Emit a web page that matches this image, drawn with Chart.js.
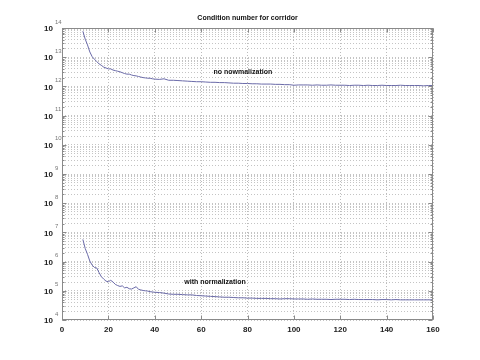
<!DOCTYPE html>
<html>
<head>
<meta charset="utf-8">
<script src="https://cdn.jsdelivr.net/npm/chart.js@4/dist/chart.umd.min.js"></script>
<style>
  html, body { margin: 0; padding: 0; background: #fff; }
  #wrap { width: 480px; height: 360px; }
</style>
</head>
<body>
<div id="wrap"><canvas id="c" width="480" height="360"></canvas></div>
<script>
// ---- data ----
const titleText = 'Condition number for corridor';
const xValues = [9,10,11,12,13,14,15,16,17,18,19,20,21,22,23,24,25,26,27,28,29,30,31,32,33,34,35,36,37,38,39,40,
  42,44,46,48,50,52,54,56,58,60,62,64,66,68,70,72,74,76,78,80,82,84,86,88,90,92,94,96,98,100,
  102,104,106,108,110,112,114,116,118,120,122,124,126,128,130,132,134,136,138,140,142,144,146,148,150,152,154,156,158,160];
// log10 of the condition number, no normalization
const log10NoNorm = [13.89,13.62,13.42,13.18,13.02,12.93,12.85,12.77,12.72,12.66,12.63,12.60,12.60,12.56,12.54,12.52,12.50,12.47,12.44,12.42,12.42,12.39,12.37,12.36,12.34,12.32,12.30,12.29,12.28,12.28,12.26,12.25,
  12.24,12.26,12.21,12.21,12.20,12.19,12.18,12.17,12.16,12.16,12.15,12.14,12.14,12.13,12.13,12.12,12.11,12.11,12.10,12.10,12.09,12.09,12.08,12.08,12.08,12.07,12.07,12.06,12.06,12.04,
  12.05,12.05,12.05,12.04,12.05,12.04,12.04,12.05,12.04,12.04,12.04,12.03,12.04,12.04,12.03,12.04,12.03,12.03,12.04,12.03,12.03,12.03,12.04,12.03,12.03,12.03,12.03,12.02,12.03,12.03];
// log10 of the condition number, with normalization
const log10WithNorm = [6.76,6.45,6.25,6.02,5.88,5.80,5.78,5.62,5.48,5.40,5.33,5.31,5.36,5.30,5.22,5.18,5.15,5.17,5.10,5.12,5.07,5.06,5.10,5.14,5.05,5.03,5.01,5.00,4.99,4.97,4.96,4.95,
  4.94,4.92,4.89,4.88,4.88,4.87,4.86,4.86,4.84,4.83,4.82,4.81,4.80,4.79,4.78,4.78,4.77,4.76,4.76,4.75,4.75,4.74,4.74,4.74,4.73,4.73,4.72,4.73,4.73,4.72,
  4.72,4.72,4.71,4.72,4.71,4.71,4.71,4.70,4.71,4.71,4.71,4.70,4.71,4.70,4.70,4.70,4.70,4.69,4.70,4.70,4.69,4.70,4.69,4.69,4.69,4.69,4.69,4.69,4.69,4.69];
const yDecadeExponents = [4,5,6,7,8,9,10,11,12,13,14];
const xTickValues = [0,20,40,60,80,100,120,140,160];
const annotations = [
  { text: 'no nowmalization', x: 78, y: Math.pow(10, 12.49) },
  { text: 'with normalization', x: 66, y: Math.pow(10, 5.31) }
];

const lineColor = '#6a6aa8';
const FONT = '"Liberation Sans", Arial, sans-serif';
const toPoints = (xs, logs) => xs.map((xv, i) => ({ x: xv, y: Math.pow(10, logs[i]) }));

const decorPlugin = {
  id: 'decor',
  afterDraw(chart) {
    const { ctx, chartArea: a, scales: { x, y } } = chart;
    ctx.save();
    const L = Math.round(a.left) + 0.5, R = Math.round(a.right) - 0.5;
    const T = Math.round(a.top) + 0.5, B = Math.round(a.bottom) - 0.5;
    // frame
    ctx.strokeStyle = '#8a8a8a';
    ctx.lineWidth = 1;
    ctx.strokeRect(L, T, R - L, B - T);
    // tick marks
    ctx.beginPath();
    xTickValues.forEach(v => {
      const px = Math.round(x.getPixelForValue(v)) + 0.5;
      ctx.moveTo(px, B); ctx.lineTo(px, B - 4);
      ctx.moveTo(px, T); ctx.lineTo(px, T + 4);
    });
    y.ticks.forEach(t => {
      const py = Math.round(y.getPixelForValue(t.value)) + 0.5;
      const len = t.major ? 4 : 2;
      ctx.moveTo(L, py); ctx.lineTo(L + len, py);
      ctx.moveTo(R, py); ctx.lineTo(R - len, py);
    });
    ctx.stroke();
    // y labels 10^n
    yDecadeExponents.forEach(e => {
      const py = y.getPixelForValue(Math.pow(10, e));
      ctx.fillStyle = '#222';
      ctx.font = 'bold 8px ' + FONT;
      ctx.textAlign = 'right';
      ctx.textBaseline = 'middle';
      ctx.fillText('10', a.left - 9, py + 1);
      ctx.fillStyle = '#777';
      ctx.font = '6px ' + FONT;
      ctx.textAlign = 'left';
      ctx.fillText(String(e), a.left - 7, py - 6);
    });
    // title
    ctx.fillStyle = '#111';
    ctx.font = 'bold 7px ' + FONT;
    ctx.textAlign = 'center';
    ctx.textBaseline = 'middle';
    ctx.fillText(titleText, (a.left + a.right) / 2, 18);
    // annotations
    annotations.forEach(an => {
      ctx.fillText(an.text, x.getPixelForValue(an.x), y.getPixelForValue(an.y));
    });
    ctx.restore();
  }
};

new Chart(document.getElementById('c'), {
  type: 'line',
  data: {
    datasets: [
      { data: toPoints(xValues, log10NoNorm), borderColor: lineColor, borderWidth: 1, pointRadius: 0, tension: 0, fill: false },
      { data: toPoints(xValues, log10WithNorm), borderColor: lineColor, borderWidth: 1, pointRadius: 0, tension: 0, fill: false }
    ]
  },
  options: {
    responsive: false,
    devicePixelRatio: 1,
    animation: false,
    layout: { padding: { top: 28, right: 47, left: 0, bottom: 0 } },
    plugins: { legend: { display: false }, tooltip: { enabled: false }, title: { display: false } },
    scales: {
      x: {
        type: 'linear', min: 0, max: 160,
        afterBuildTicks: s => { s.ticks = xTickValues.map(v => ({ value: v })); },
        afterFit: s => { s.height = 40; },
        ticks: { color: '#222', font: { size: 8, family: FONT, weight: 'bold' }, padding: 5, maxRotation: 0 },
        grid: { color: '#bcbcbc', lineWidth: 1, drawTicks: false },
        border: { display: false, dash: [1, 2] }
      },
      y: {
        type: 'logarithmic', min: 1e4, max: 1e14,
        afterBuildTicks: s => {
          const t = [];
          for (let e = 4; e < 14; e++) for (let m = 1; m <= 9; m++) t.push({ value: m * Math.pow(10, e), major: m === 1 });
          t.push({ value: 1e14, major: true });
          s.ticks = t;
        },
        afterFit: s => { s.width = 62; },
        ticks: { display: false },
        grid: { color: '#c4c4c4', lineWidth: 1, drawTicks: false },
        border: { display: false, dash: [1, 2] }
      }
    }
  },
  plugins: [decorPlugin]
});
</script>
</body>
</html>
